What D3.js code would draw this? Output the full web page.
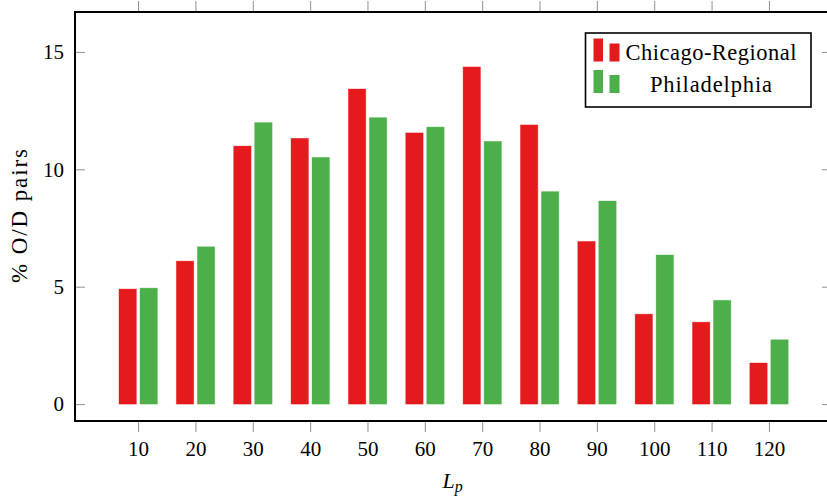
<!DOCTYPE html>
<html>
<head>
<meta charset="utf-8">
<script src="https://cdn.jsdelivr.net/npm/d3@7"></script>
<style>
  body { margin: 0; background: #fff; }
  svg { display: block; }
  text { font-family: "Liberation Serif", "Times New Roman", serif; fill: #000; }
</style>
</head>
<body>
<script>
// Path length buckets (L_p) and share of O/D pairs per bucket, in percent
const categories = [10, 20, 30, 40, 50, 60, 70, 80, 90, 100, 110, 120];
const chicagoRegional = [4.90, 6.09, 10.99, 11.32, 13.42, 11.55, 14.36, 11.89, 6.93, 3.83, 3.49, 1.75];
const philadelphia    = [4.94, 6.70, 11.99, 10.51, 12.20, 11.80, 11.19, 9.05, 8.65, 6.35, 4.42, 2.74];
const yTicks = [0, 5, 10, 15];
const seriesNames = ["Chicago-Regional", "Philadelphia"];
const seriesColors = ["#e41a1c", "#4daf4a"];

const W = 827, H = 498;
const plot = { left: 75, right: 832, top: 12, bottom: 421 };

const x = d3.scaleLinear().domain([-1, 131]).range([plot.left, plot.right]);
const y = d3.scaleLinear().domain([-0.72, 16.7]).range([plot.bottom, plot.top]);

const svg = d3.select("body").append("svg")
  .attr("width", W).attr("height", H);

// grouped bars: one bar per series, side by side around each tick
const barW = 17.4, barOffset = [-10.4, 10.6];
const series = [chicagoRegional, philadelphia];

series.forEach((vals, s) => {
  svg.append("g")
    .selectAll("rect")
    .data(categories.map((c, i) => ({ c, v: vals[i] })))
    .join("rect")
    .attr("x", d => x(d.c) + barOffset[s] - barW / 2)
    .attr("width", barW)
    .attr("y", d => y(d.v))
    .attr("height", d => y(0) - y(d.v))
    .attr("fill", seriesColors[s])
    .attr("stroke", seriesColors[s])
    .attr("stroke-opacity", 0.45)
    .attr("stroke-width", 0.8);
});

// axes with pgfplots-like styling
function styleAxis(g, showLabels) {
  g.select(".domain").remove();
  g.selectAll(".tick line").attr("stroke", "#8f8f8f").attr("stroke-width", 1);
  g.selectAll(".tick text")
    .style("font-family", '"Liberation Serif", serif')
    .style("font-size", "21px")
    .attr("fill", "#000");
  if (!showLabels) g.selectAll(".tick text").remove();
}

svg.append("g")
  .attr("transform", `translate(0,${plot.bottom})`)
  .call(d3.axisBottom(x).tickValues(categories).tickSize(11).tickPadding(9))
  .call(g => styleAxis(g, true));

svg.append("g")
  .attr("transform", `translate(0,${plot.top})`)
  .call(d3.axisTop(x).tickValues(categories).tickSize(11))
  .call(g => styleAxis(g, false));

svg.append("g")
  .attr("transform", `translate(${plot.left},0)`)
  .call(d3.axisLeft(y).tickValues(yTicks).tickSize(-10).tickPadding(11))
  .call(g => styleAxis(g, true));

svg.append("g")
  .attr("transform", `translate(${plot.right},0)`)
  .call(d3.axisRight(y).tickValues(yTicks).tickSize(-10))
  .call(g => styleAxis(g, false));

// plot frame
svg.append("rect")
  .attr("x", plot.left).attr("y", plot.top)
  .attr("width", plot.right - plot.left).attr("height", plot.bottom - plot.top)
  .attr("fill", "none").attr("stroke", "#000").attr("stroke-width", 2);

// axis titles
svg.append("text")
  .attr("transform", `translate(27,${(plot.top + plot.bottom) / 2 - 0.5}) rotate(-90)`)
  .attr("text-anchor", "middle")
  .attr("textLength", 134)
  .attr("lengthAdjust", "spacing")
  .style("font-size", "23px")
  .text("% O/D pairs");

const xl = svg.append("text")
  .attr("x", (plot.left + plot.right) / 2 - 1)
  .attr("y", 488)
  .attr("text-anchor", "middle")
  .style("font-size", "22px");
xl.append("tspan").style("font-style", "italic").text("L");
xl.append("tspan").style("font-style", "italic").style("font-size", "16px")
  .attr("dy", 4).text("p");

// legend
const lg = svg.append("g");
lg.append("rect")
  .attr("x", 585.5).attr("y", 33).attr("width", 225.5).attr("height", 74)
  .attr("fill", "#fff").attr("stroke", "#000").attr("stroke-width", 1.6);

const legendTextLen = [171, 122];
seriesNames.forEach((name, i) => {
  const base = 61.5 + i * 31.5;
  lg.append("rect").attr("x", 593.5).attr("width", 9.5)
    .attr("y", base - 23).attr("height", 23).attr("fill", seriesColors[i]);
  lg.append("rect").attr("x", 609.5).attr("width", 10)
    .attr("y", base - 18).attr("height", 18).attr("fill", seriesColors[i]);
  lg.append("text")
    .attr("x", 711).attr("y", base - 1.5)
    .attr("text-anchor", "middle")
    .attr("textLength", legendTextLen[i])
    .attr("lengthAdjust", "spacing")
    .style("font-size", "22.5px")
    .text(name);
});
</script>
</body>
</html>
